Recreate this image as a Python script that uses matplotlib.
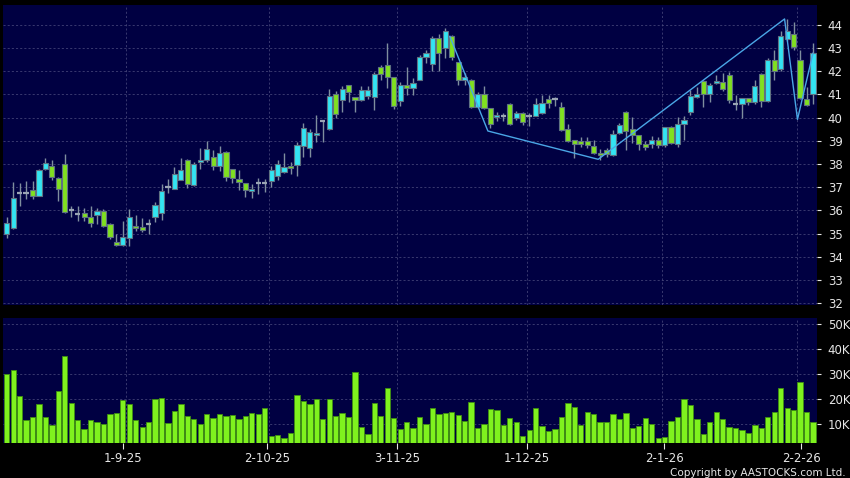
import numpy as np
import matplotlib
matplotlib.use("Agg")
import matplotlib.pyplot as plt
from matplotlib.ticker import FuncFormatter, FixedLocator

# daily candles, oldest first
opens = [35.0, 35.26, 36.76, 36.76, 36.89, 36.62, 37.8, 37.92, 37.41, 37.98,
         36.0, 35.84, 35.9, 35.73, 35.81, 35.96, 35.43, 34.65, 34.51, 34.81,
         35.31, 35.28, 35.42, 35.71, 35.88, 37.0, 36.92, 37.32, 38.17, 37.09,
         38.08, 38.18, 38.28, 37.92, 38.51, 37.78, 37.35, 37.18, 36.83, 37.18,
         37.18, 37.25, 37.46, 37.65, 37.9, 37.97, 38.76, 38.68, 39.26, 39.85,
         39.5, 41.01, 40.75, 41.4, 40.88, 40.75, 40.91, 40.88, 42.16, 42.28,
         41.73, 40.72, 41.41, 41.27, 41.63, 42.61, 42.3, 43.45, 43.0, 43.5,
         42.38, 41.63, 41.63, 40.45, 41.03, 40.41, 40.03, 40.08, 40.58, 39.98,
         40.19, 40.08, 40.08, 40.19, 40.78, 40.78, 40.46, 39.49, 39.03, 38.97,
         38.97, 38.78, 38.49, 38.58, 38.38, 39.34, 40.25, 39.49, 39.24, 38.85,
         38.85, 39.05, 38.81, 39.6, 38.88, 39.72, 40.22, 40.9, 41.59, 41.03,
         41.5, 41.55, 41.83, 40.6, 40.59, 40.83, 40.66, 41.89, 40.72, 42.49,
         42.09, 43.38, 43.61, 42.49, 40.78, 41.0]
highs = [35.73, 37.24, 37.16, 37.25, 37.28, 37.8, 38.27, 38.16, 37.45, 38.45,
         36.19, 36.19, 36.1, 36.19, 36.1, 36.07, 35.45, 34.96, 35.54, 36.04,
         35.8, 35.67, 35.62, 36.34, 37.15, 37.35, 37.87, 38.25, 38.2, 38.1,
         38.68, 38.99, 38.58, 38.76, 38.55, 37.8, 37.72, 37.2, 37.13, 37.39,
         37.35, 37.9, 38.18, 38.47, 38.08, 38.94, 39.76, 39.52, 40.12, 39.87,
         41.24, 41.13, 41.34, 41.42, 40.9, 41.34, 41.34, 41.95, 42.28, 43.21,
         41.75, 41.55, 42.2, 41.7, 42.7, 42.92, 43.5, 43.6, 43.86, 43.55,
         42.4, 41.9, 41.65, 41.1, 41.34, 40.43, 40.26, 40.2, 40.62, 40.3,
         40.22, 40.2, 40.85, 40.98, 40.97, 40.9, 40.68, 39.74, 39.05, 39.14,
         39.17, 39.03, 38.65, 38.7, 39.46, 39.77, 40.3, 40.03, 39.26, 39.0,
         39.2, 39.15, 39.6, 39.65, 40.03, 40.07, 41.17, 41.32, 41.62, 41.5,
         41.83, 41.9, 41.98, 40.98, 40.83, 40.85, 41.63, 41.9, 42.55, 42.89,
         43.72, 44.26, 44.11, 42.93, 41.3, 43.22]
lows = [34.81, 35.2, 36.19, 36.5, 36.5, 36.6, 37.75, 37.31, 36.4, 35.9,
        35.71, 35.54, 35.54, 35.3, 35.41, 35.3, 34.75, 34.47, 34.47, 34.47,
        35.1, 35.05, 34.98, 35.48, 35.6, 36.74, 36.9, 37.3, 36.96, 37.05,
        37.78, 38.1, 37.72, 37.68, 37.25, 37.18, 36.89, 36.56, 36.54, 36.7,
        36.8, 37.0, 37.3, 37.6, 37.56, 37.5, 38.32, 38.28, 38.94, 38.94,
        39.45, 39.98, 40.24, 40.67, 40.26, 40.7, 40.81, 40.34, 41.63, 41.27,
        40.38, 40.5, 40.98, 40.98, 41.6, 42.35, 42.0, 42.0, 42.56, 42.5,
        41.41, 41.4, 40.4, 40.4, 40.35, 39.55, 39.83, 39.85, 39.68, 39.9,
        39.7, 39.62, 40.05, 40.15, 40.39, 40.5, 39.4, 38.95, 38.24, 38.71,
        38.7, 38.45, 38.16, 38.3, 38.35, 39.3, 38.59, 38.9, 38.62, 38.6,
        38.7, 38.7, 38.75, 38.85, 38.75, 39.04, 40.12, 40.85, 40.46, 40.68,
        41.45, 41.15, 40.63, 40.34, 40.0, 40.55, 40.6, 40.47, 40.65, 41.62,
        42.0, 43.3, 42.93, 40.8, 40.5, 40.6]
closes = [35.47, 36.55, 36.76, 36.76, 36.62, 37.75, 38.05, 37.44, 36.93, 35.94,
          36.0, 35.84, 35.73, 35.47, 35.97, 35.33, 34.85, 34.51, 34.87, 35.73,
          35.22, 35.14, 35.42, 36.23, 36.84, 37.0, 37.56, 37.75, 37.15, 37.99,
          38.15, 38.64, 37.92, 38.47, 37.43, 37.39, 37.22, 36.89, 36.92, 37.18,
          37.18, 37.75, 38.0, 37.85, 37.82, 38.8, 39.55, 39.37, 39.33, 39.85,
          40.95, 40.15, 41.23, 41.11, 40.75, 41.17, 41.17, 41.89, 41.89, 41.74,
          40.48, 41.41, 41.27, 41.49, 42.61, 42.78, 43.45, 42.78, 43.74, 42.59,
          41.63, 41.74, 40.45, 41.03, 40.41, 39.73, 40.12, 40.08, 39.72, 40.19,
          39.8, 40.08, 40.6, 40.62, 40.61, 40.78, 39.46, 39.0, 38.85, 38.85,
          38.8, 38.49, 38.4, 38.44, 39.31, 39.67, 39.41, 39.24, 38.85, 38.71,
          39.05, 38.81, 39.6, 38.91, 39.72, 39.9, 40.91, 41.03, 41.03, 41.4,
          41.57, 41.22, 40.76, 40.6, 40.83, 40.66, 41.37, 40.72, 42.49, 42.02,
          43.53, 43.71, 43.04, 40.83, 40.55, 42.78]

# volume in thousands of shares
volume_k = [30.0, 31.6, 21.0, 11.6, 12.7, 18.0, 12.7, 9.3, 23.0, 37.0,
            18.3, 11.6, 8.0, 11.3, 10.7, 10.0, 13.7, 14.3, 19.6, 17.7,
            11.6, 8.7, 10.5, 19.9, 20.4, 10.3, 15.0, 18.0, 13.0, 12.0,
            9.7, 13.7, 12.3, 13.7, 13.2, 13.3, 12.0, 12.9, 14.1, 13.7,
            16.4, 5.0, 5.3, 4.1, 6.4, 21.6, 18.9, 17.7, 20.0, 11.7,
            19.7, 12.9, 14.4, 12.7, 30.7, 8.7, 6.0, 18.4, 13.2, 24.4,
            12.4, 7.7, 10.5, 8.4, 12.5, 10.0, 16.1, 13.7, 14.3, 14.7,
            13.3, 11.1, 18.7, 8.1, 9.9, 15.9, 15.5, 9.5, 12.1, 10.8,
            5.2, 7.5, 16.1, 9.2, 7.1, 7.7, 12.8, 18.4, 16.5, 9.3,
            14.8, 13.7, 10.8, 10.7, 13.9, 11.7, 14.4, 8.1, 9.1, 12.1,
            10.0, 4.4, 4.7, 11.1, 12.7, 20.0, 17.5, 11.7, 6.0, 10.5,
            14.5, 11.9, 8.7, 8.1, 7.5, 6.4, 9.3, 8.4, 12.8, 14.5,
            24.4, 16.1, 15.5, 26.7, 14.7, 10.5]

# trend overlay (bar index, price)
trend_x = [68.7, 74.6, 91.7, 120.6, 122.6, 125.0]
trend_y = [43.5, 39.42, 38.2, 44.25, 39.92, 42.77]

date_labels = ["1-9-25", "2-10-25", "3-11-25", "1-12-25", "2-1-26", "2-2-26"]
date_ticks = [18.08, 40.4, 60.56, 80.67, 101.95, 123.15]
date_grid = [18.54, 40.62, 60.56, 80.62, 101.64, 122.53]

BG = "#000000"
PANEL = "#000042"
GRID = "#4e4e80"
TXT = "#e6e6e6"
CYAN = "#33e4f2"
GREEN = "#80e020"
EDGE = "#5f7282"
WICK = "#7f8e9e"

fig = plt.figure(figsize=(8.5, 4.78), dpi=100, facecolor=BG)
ax = fig.add_axes([0.0039, 0.3619, 0.9576, 0.6276], facecolor=PANEL)
axv = fig.add_axes([0.0039, 0.0726, 0.9576, 0.2621], facecolor=PANEL, sharex=ax)

o, h, l, c = (np.array(a) for a in (opens, highs, lows, closes))
idx = np.arange(len(o))
up = c > o
dn = c < o
flat = c == o

ax.vlines(idx, l, h, color=WICK, lw=1, zorder=2)
ax.bar(idx[up], c[up] - o[up], bottom=o[up], width=0.8, color=CYAN,
       edgecolor=EDGE, linewidth=0.8, zorder=3)
ax.bar(idx[dn], o[dn] - c[dn], bottom=c[dn], width=0.8, color=GREEN,
       edgecolor=EDGE, linewidth=0.8, zorder=3)
ax.hlines(o[flat], idx[flat] - 0.42, idx[flat] + 0.42, color="#9aa4b4", lw=1.6, zorder=3)
ax.plot(trend_x, trend_y, color="#4aa6e6", lw=1, zorder=4)

axv.bar(idx, np.array(volume_k) * 1000, width=0.82, color="#7ff21e",
        edgecolor="#3f8f12", linewidth=0.6, zorder=3)

for a in (ax, axv):
    for s in a.spines.values():
        s.set_visible(False)
    a.yaxis.tick_right()
    a.tick_params(axis="y", colors=TXT, labelsize=8.5, length=3, pad=4.5, width=0.8)
    a.grid(axis="y", color=GRID, lw=0.5, ls=(0, (3, 3)), zorder=1)
    for gx in date_grid:
        a.axvline(gx, color=GRID, lw=0.5, ls=(0, (3, 3)), zorder=1)

ax.set_xlim(-0.53, 125.67)
ax.set_ylim(31.92, 44.85)
ax.set_yticks(range(32, 45))
ax.tick_params(axis="x", length=0, labelbottom=False)

axv.set_ylim(2100, 52300)
axv.set_yticks([10000, 20000, 30000, 40000, 50000])
axv.yaxis.set_major_formatter(FuncFormatter(lambda v, p: f"{int(v / 1000)}K"))
axv.xaxis.set_major_locator(FixedLocator(date_ticks))
axv.set_xticklabels(date_labels)
axv.tick_params(axis="x", colors=TXT, labelsize=8.5, length=4, pad=2, width=0.8)

fig.text(0.995, 0.0, "Copyright by AASTOCKS.com Ltd.", color=TXT,
         fontsize=7.5, ha="right", va="bottom")

fig.savefig("out.png", dpi=100, facecolor=BG)
